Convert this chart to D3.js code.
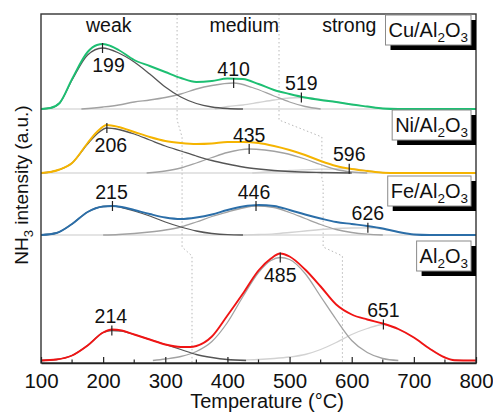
<!DOCTYPE html>
<html>
<head>
<meta charset="utf-8">
<script src="https://cdn.jsdelivr.net/npm/d3@7"></script>
<style>
  html, body { margin: 0; padding: 0; background: #fff; }
  svg { display: block; font-family: "Liberation Sans", Arial, sans-serif; }
</style>
</head>
<body>
<svg id="chart" width="493" height="413"></svg>
<script>
// NH3-TPD profiles, [temperature °C, intensity a.u.], with the fitted desorption peaks.
const cuTotal = [[100,0],[115,1],[130,6],[150,30],[175,57],[190,64],[200,65],[212,63],[225,59],[250,49],[275,43],[300,37],[325,31],[350,27],[375,28],[400,30.5],[425,30],[450,25],[475,19],[500,15],[525,11.5],[550,9],[575,7],[600,4.5],[625,2.5],[650,0.5],[675,0],[800,0]];
const cuPeak1 = [[100,0],[115,1],[130,6],[150,29],[175,54],[199,61],[225,56],[250,47],[275,35],[300,22],[325,12],[350,5.5],[375,2],[400,0.5],[425,0]];
const cuPeak2 = [[165,0],[200,2],[225,4],[250,7],[275,9],[300,11.5],[325,15],[350,20],[375,23.5],[410,26],[440,21.5],[475,13],[500,7],[525,2.5],[550,0]];
const cuPeak3 = [[380,0],[400,2.5],[425,4],[450,6.5],[475,9],[500,11],[519,11.5],[550,9.5],[575,7],[600,4.5],[625,2.5],[650,0.5],[675,0]];

const niTotal = [[100,0],[115,1],[130,3.5],[150,10],[175,30],[190,41],[206,48],[225,46],[250,41],[275,36],[300,32],[325,30],[350,29],[375,29.5],[400,31],[425,31],[450,30],[475,27],[500,23],[525,18],[550,12],[575,7],[600,4],[625,2],[650,0.3],[675,0],[800,0]];
const niPeak1 = [[100,0],[115,1],[130,3.5],[150,10],[175,29],[190,39],[206,45],[225,43.5],[250,39],[275,33],[300,27],[325,22],[350,17],[375,12.5],[400,9],[425,6],[450,4],[475,2.5],[500,1.5],[550,0.5],[600,0]];
const niPeak2 = [[270,0],[300,2],[325,5],[350,10],[375,15.5],[400,20.5],[435,24],[460,23],[490,20],[525,14],[550,8.5],[575,3.5],[600,1],[625,0]];
const niPeak3 = [[440,0],[475,1.5],[500,2.5],[525,3.2],[550,3.8],[575,4.2],[596,4.3],[625,2.5],[650,0.5],[675,0]];

const feTotal = [[100,0],[125,2],[150,11],[175,23],[200,28.5],[215,29],[230,28],[250,25],[275,21],[300,17.5],[325,16],[350,17.5],[375,20.5],[400,25],[425,28.5],[450,30],[475,29],[500,25],[525,20.5],[550,16.5],[575,13],[600,11],[625,9],[650,6.5],[675,3],[700,0.5],[725,0],[800,0]];
const fePeak1 = [[100,0],[125,2],[150,11],[175,23],[200,28.5],[215,29],[230,27.5],[250,24],[275,19],[300,13],[325,8],[350,4],[375,1.5],[400,0.3],[425,0]];
const fePeak2 = [[200,0],[225,0.5],[250,1.5],[275,3],[300,5],[325,8],[350,13],[375,18.5],[400,23],[425,27],[446,29],[475,27.5],[500,22.5],[525,16.5],[550,10.5],[575,5.5],[600,2.5],[625,0.8],[650,0]];
const fePeak3 = [[425,0],[450,0.5],[475,1.2],[500,2.5],[525,4],[550,5.5],[575,6.5],[600,7],[626,7.2],[650,6],[675,3],[700,0.5],[725,0]];

const alTotal = [[100,0],[125,1],[150,5],[175,15],[200,28],[214,31],[230,30],[250,26],[275,21],[300,16],[325,13.5],[340,13.5],[350,14.5],[375,24],[400,45],[425,67],[450,90],[470,102],[485,107],[500,104],[525,91],[550,74],[575,56],[600,46],[625,41],[650,37],[675,31.5],[700,23],[725,12],[750,3],[765,0.3],[800,0]];
const alPeak1 = [[100,0],[125,1],[150,5],[175,15],[200,28],[214,30],[230,29.5],[250,26],[275,21],[300,16],[325,11],[350,6],[375,3],[400,1],[430,0]];
const alPeak2 = [[280,0],[300,1.5],[325,4],[350,9],[375,19],[400,38],[425,64],[450,88],[470,100],[485,103],[500,101],[525,87],[550,64],[575,41],[600,20],[625,8],[650,2],[675,0]];
const alPeak3 = [[400,0],[425,0.5],[450,1],[475,2],[500,3.5],[525,6],[550,11],[575,18],[600,26],[625,32],[651,36],[675,31],[700,23],[725,12],[750,3],[775,0.3],[800,0]];

// peak maxima labelled in each profile
const cuPeakTemps = [199, 410, 519];
const niPeakTemps = [206, 435, 596];
const fePeakTemps = [215, 446, 626];
const alPeakTemps = [214, 485, 651];

// weak / medium / strong acid-site boundaries (°C) for Cu, Ni, Fe, Al2O3
const weakMediumBounds = [319, 327, 327, 343];
const mediumStrongBounds = [483, 552, 554, 585];

const siteNames = ["weak", "medium", "strong"];
const siteTemps = [209, 427, 596];

const xTicks = [100, 200, 300, 400, 500, 600, 700, 800];
const xMinorTicks = [150, 250, 350, 450, 550, 650, 750];

const sampleNames = [["Cu/Al", "2", "O", "3"], ["Ni/Al", "2", "O", "3"], ["Fe/Al", "2", "O", "3"], ["Al", "2", "O", "3"]];
const sampleColors = ["#1dbf72", "#f5b400", "#2b6ea8", "#f01414"];
const peakColors = ["#555555", "#a2a2a2", "#d2d2d2"];

// ---- layout ----
const svg = d3.select("#chart");
const m = { left: 41, right: 476, top: 14, bottom: 363 };

const x = d3.scaleLinear().domain([100, 800]).range([m.left, m.right]);
const y = d3.scaleLinear().domain([0, 350]).range([m.bottom, m.top - 1]);

const panels = [
  { total: cuTotal, peaks: [cuPeak1, cuPeak2, cuPeak3], temps: cuPeakTemps, offset: 254,
    place: ["below", "above", "above"], dx: [6, 0, 0], legendTop: 15, span: [m.top, 120] },
  { total: niTotal, peaks: [niPeak1, niPeak2, niPeak3], temps: niPeakTemps, offset: 190,
    place: ["below", "above", "above"], dx: [4, 0, 0], legendTop: 110, span: [137, 180] },
  { total: feTotal, peaks: [fePeak1, fePeak2, fePeak3], temps: fePeakTemps, offset: 128,
    place: ["above", "above", "above"], dx: [-1, -2, 0], legendTop: 176, span: [182, 247] },
  { total: alTotal, peaks: [alPeak1, alPeak2, alPeak3], temps: alPeakTemps, offset: 2.5,
    place: ["above", "below", "above"], dx: [-1, 0, 0], legendTop: 241, span: [256, m.bottom] }
];

// panel baselines
panels.slice(0, 3).forEach(p => {
  svg.append("line")
    .attr("x1", m.left).attr("x2", m.right)
    .attr("y1", y(p.offset)).attr("y2", y(p.offset))
    .attr("stroke", "#c9c9c9").attr("stroke-width", 1);
});

// dotted site boundaries, stepping between panels
const divider = d3.line().x(d => d[0]).y(d => d[1]);
[weakMediumBounds, mediumStrongBounds].forEach(bounds => {
  const pts = [];
  panels.forEach((p, i) => {
    pts.push([x(bounds[i]), p.span[0]]);
    pts.push([x(bounds[i]), p.span[1]]);
  });
  svg.append("path")
    .attr("d", divider(pts))
    .attr("fill", "none")
    .attr("stroke", "#b8b8b8")
    .attr("stroke-width", 1)
    .attr("stroke-dasharray", "1.5,2.5");
});

// curves
panels.forEach((p, i) => {
  const line = d3.line()
    .x(d => x(d[0]))
    .y(d => y(d[1] + p.offset))
    .curve(d3.curveMonotoneX);

  [2, 1, 0].forEach(k => {
    svg.append("path")
      .attr("d", line(p.peaks[k]))
      .attr("fill", "none")
      .attr("stroke", peakColors[k])
      .attr("stroke-width", 1.3);
  });

  svg.append("path")
    .attr("d", line(p.total))
    .attr("fill", "none")
    .attr("stroke", sampleColors[i])
    .attr("stroke-width", 1.9)
    .attr("stroke-linejoin", "round");

  // peak markers and temperature labels
  p.temps.forEach((t, k) => {
    const top = d3.max(p.peaks[k], d => d[1]);
    const cy = y(top + p.offset);
    const cx = x(t);
    svg.append("line")
      .attr("x1", cx).attr("x2", cx)
      .attr("y1", cy - 5).attr("y2", cy + 5)
      .attr("stroke", "#222").attr("stroke-width", 1.2);
    svg.append("text")
      .attr("x", cx + p.dx[k])
      .attr("y", p.place[k] === "below" ? cy + 24 : cy - 7.5)
      .attr("text-anchor", "middle")
      .attr("font-size", 19.5)
      .attr("fill", "#111")
      .text(t);
  });
});

// site labels
siteNames.forEach((s, i) => {
  svg.append("text")
    .attr("x", x(siteTemps[i]))
    .attr("y", 32)
    .attr("text-anchor", "middle")
    .attr("font-size", 19.5)
    .attr("fill", "#111")
    .text(s);
});

// frame
svg.append("rect")
  .attr("x", m.left).attr("y", m.top)
  .attr("width", m.right - m.left).attr("height", m.bottom - m.top)
  .attr("fill", "none").attr("stroke", "#333").attr("stroke-width", 1.4);

// temperature axis
const axis = d3.axisBottom(x)
  .tickValues(xTicks)
  .tickSizeInner(-6)
  .tickSizeOuter(0)
  .tickFormat(d3.format("d"));
const gx = svg.append("g")
  .attr("transform", `translate(0,${m.bottom})`)
  .call(axis);
gx.select(".domain").attr("stroke", "#222").attr("stroke-width", 1.6);
gx.selectAll(".tick line").attr("stroke", "#222").attr("stroke-width", 1.2);
gx.selectAll(".tick text")
  .attr("y", 25).attr("dy", null)
  .attr("font-size", 20.5)
  .attr("font-family", "'Liberation Sans', Arial, sans-serif")
  .attr("fill", "#111");
gx.selectAll(".minor")
  .data(xMinorTicks)
  .enter().append("line")
  .attr("class", "minor")
  .attr("x1", d => x(d)).attr("x2", d => x(d))
  .attr("y1", 0).attr("y2", -3.5)
  .attr("stroke", "#222").attr("stroke-width", 1.2);

svg.append("text")
  .attr("x", 267).attr("y", 408)
  .attr("text-anchor", "middle")
  .attr("font-size", 20)
  .attr("fill", "#111")
  .text("Temperature (°C)");

// intensity axis title
const yt = svg.append("text")
  .attr("transform", "translate(28,185) rotate(-90)")
  .attr("text-anchor", "middle")
  .attr("font-size", 19)
  .attr("fill", "#111");
yt.append("tspan").text("NH");
yt.append("tspan").attr("font-size", 13).attr("dy", 5).text("3");
yt.append("tspan").attr("dy", -5).text(" intensity (a.u.)");

// sample legends: white box with a black drop shadow
const boxH = 30;
panels.forEach((p, i) => {
  const g = svg.append("g");
  const parts = sampleNames[i];
  const txt = g.append("text")
    .attr("x", 468)
    .attr("y", p.legendTop + 22)
    .attr("text-anchor", "end")
    .attr("font-size", 20)
    .attr("fill", "#111");
  txt.append("tspan").text(parts[0]);
  txt.append("tspan").attr("font-size", 13.5).attr("dy", 5).text(parts[1]);
  txt.append("tspan").attr("dy", -5).text(parts[2]);
  txt.append("tspan").attr("font-size", 13.5).attr("dy", 5).text(parts[3]);
  const bb = txt.node().getBBox();
  const bx = bb.x - 3, bw = 471 - bx;
  g.insert("rect", "text")
    .attr("x", bx + 5).attr("y", p.legendTop + 5)
    .attr("width", bw).attr("height", boxH)
    .attr("fill", "#000");
  g.insert("rect", "text")
    .attr("x", bx).attr("y", p.legendTop)
    .attr("width", bw).attr("height", boxH)
    .attr("fill", "#fff").attr("stroke", "#8a8a8a").attr("stroke-width", 1);
});
</script>
</body>
</html>
